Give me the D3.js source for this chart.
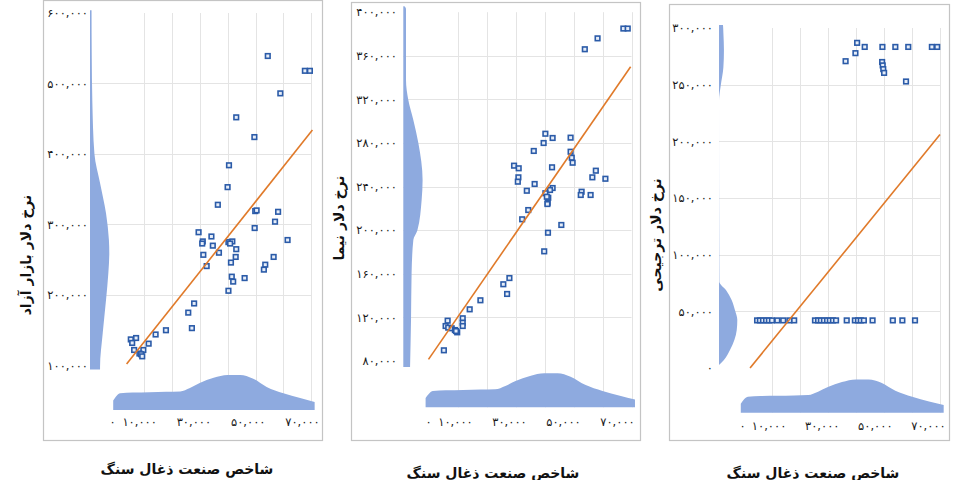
<!DOCTYPE html>
<html><head><meta charset="utf-8">
<script src="https://cdn.jsdelivr.net/npm/d3@7"></script>
<style>body{margin:0;background:#fff} svg{display:block}</style>
</head><body><svg id="c" width="956" height="480"></svg>
<script>
// ---------------- DATA ----------------
const xTitle = "شاخص صنعت ذغال سنگ";
const yTitles = ["نرخ دلار بازار آزاد", "نرخ دلار نیما", "نرخ دلار ترجیحی"];
const xTickValues = [0, 10000, 30000, 50000, 70000];
const xGridValues = [10000, 20000, 30000, 40000, 50000, 60000, 70000];
const yTicks1 = [100000, 200000, 300000, 400000, 500000, 600000];
const yTicks2 = [80000, 120000, 160000, 200000, 240000, 280000, 320000, 360000, 400000];
const yTicks3 = [0, 50000, 100000, 150000, 200000, 250000, 300000];

// panel 1 : free market dollar
const s1x = [54400, 67700, 69500, 58900, 43100, 49600, 40500, 40000, 36500, 49900, 50400, 58100, 57000, 49700, 61500, 29600, 34200, 31100, 30900, 34700, 40300, 41700, 40900, 43100, 42900, 36900, 31300, 32500, 41200, 56500, 53500, 53000, 41500, 42000, 46100, 40300, 28000, 25900, 27200, 17900, 14200, 11700, 7200, 5300, 5800, 6500, 9800, 8400, 9000, 9400];
const s1y = [539000, 518000, 518000, 486000, 452000, 424000, 384000, 353000, 328000, 319000, 320000, 318000, 304000, 295000, 278000, 289000, 283000, 276000, 273000, 270000, 275000, 276000, 273000, 265000, 254000, 260000, 257000, 241000, 246000, 254000, 243000, 236000, 226000, 219000, 224000, 206000, 188000, 175000, 153000, 150000, 144000, 131000, 139000, 137000, 132000, 122000, 122000, 117000, 116000, 113000];
const trend1x = [3800, 70400];
const trend1y = [102000, 434000];

// panel 2 : NIMA dollar
const s2x = [67200, 68700, 58300, 53900, 40300, 42800, 49000, 39700, 36300, 49000, 49400, 49700, 29500, 31100, 42600, 31000, 30800, 57700, 56500, 61000, 36600, 33900, 42800, 41900, 40300, 41300, 40800, 52800, 52500, 55900, 41100, 41000, 34400, 32300, 45800, 41200, 39900, 27900, 25800, 27100, 17900, 14200, 11800, 11800, 11800, 6600, 5900, 6800, 8000, 9100, 9900, 9500, 5300];
const s2y = [385000, 385000, 376000, 366000, 288500, 284600, 284900, 280000, 272700, 272000, 266500, 261900, 259200, 256800, 257700, 248500, 244500, 254600, 248500, 247200, 242400, 236200, 238700, 236900, 233900, 229800, 230700, 235300, 232300, 232300, 225200, 224000, 218500, 210000, 204800, 197700, 180600, 156100, 150400, 141500, 135700, 127400, 119200, 115100, 112100, 117000, 112100, 110600, 110000, 108400, 106300, 107500, 89800];
const trend2x = [0, 69700];
const trend2y = [81500, 350000];

// panel 3 : preferential dollar
const s3x = [36300, 39800, 40400, 43100, 49400, 54000, 58600, 67000, 68900, 49300, 49500, 49700, 50000, 57800,
  4800, 5800, 6900, 8000, 9000, 10100, 12000, 14100, 16300, 18000, 25400, 26500, 27500, 28600, 29700, 30700, 31800, 32900, 36700, 39600, 40700, 41700, 42800, 45900, 53100, 56500, 61000];
const s3y = [270700, 277800, 286900, 283300, 283300, 283300, 283300, 283300, 283300, 270000, 267000, 263700, 260400, 252800,
  42000, 42000, 42000, 42000, 42000, 42000, 42000, 42000, 42000, 42000, 42000, 42000, 42000, 42000, 42000, 42000, 42000, 42000, 42000, 42000, 42000, 42000, 42000, 42000, 42000, 42000, 42000];
const trend3x = [2300, 69900];
const trend3y = [0, 206000];

// marginal densities (relative heights)
const xDensVals = [-1000, 1500, 6000, 12000, 18000, 23000, 26500, 30000, 35000, 40000, 44500, 49000, 54000, 60000, 66000, 71200];
const xDensRel  = [0.27, 0.48, 0.50, 0.51, 0.52, 0.53, 0.63, 0.77, 0.92, 1.0, 1.0, 0.9, 0.66, 0.48, 0.34, 0.23];

const yDens1Vals = [604000, 540000, 476000, 400000, 359000, 316000, 278000, 259000, 231000, 193000, 146000, 98000, 94500];
const yDens1Rel  = [0.08, 0.09, 0.12, 0.23, 0.52, 0.83, 0.98, 1.0, 0.95, 0.83, 0.66, 0.52, 0.52];
const yDens2Vals = [405500, 403000, 380000, 337800, 319400, 301000, 280000, 246000, 227700, 200000, 191000, 160700, 117600, 74500];
const yDens2Rel  = [0.06, 0.14, 0.14, 0.14, 0.26, 0.52, 0.78, 1.0, 0.95, 0.73, 0.52, 0.43, 0.40, 0.35];
const yDens3Vals = [302600, 302500, 295400, 280400, 265400, 248700, 236000, 76100, 68800, 60000, 51200, 42300, 33500, 24700, 15900, 7100, 2600];
const yDens3Rel  = [0.0, 0.22, 0.24, 0.27, 0.24, 0.09, 0.0, 0.02, 0.38, 0.69, 0.87, 1.0, 0.97, 0.84, 0.6, 0.27, 0.0];

// ---------------- LAYOUT ----------------
const panels = [
  {sx: s1x, sy: s1y, tx: trend1x, ty: trend1y, yTicks: yTicks1, yDomain: [100000, 600000], yDv: yDens1Vals, yDr: yDens1Rel, title: yTitles[0],
   frame: [43, 0, 322, 440], xr: [116, 311.3], yr: [365.5, 13], yLabX: 88, yDensBase: 90, yDensMax: 19.3, xDensBase: 410, xDensMax: 35,
   xLab: [112, 302], xLabY: 424, yTitlePos: [27, 255], xTitlePos: [187, 470]},
  {sx: s2x, sy: s2y, tx: trend2x, ty: trend2y, yTicks: yTicks2, yDomain: [80000, 400000], yDv: yDens2Vals, yDr: yDens2Rel, title: yTitles[1],
   frame: [351, 2, 640, 440], xr: [428.5, 631.5], yr: [361, 12.2], yLabX: 397, yDensBase: 403.3, yDensMax: 19.3, xDensBase: 407.3, xDensMax: 34,
   xLab: [428, 617], xLabY: 424, yTitlePos: [340, 218], xTitlePos: [493, 474]},
  {sx: s3x, sy: s3y, tx: trend3x, ty: trend3y, yTicks: yTicks3, yDomain: [0, 300000], yDv: yDens3Vals, yDr: yDens3Rel, title: yTitles[2],
   frame: [669, 4, 949, 440], xr: [743.6, 940.3], yr: [368, 28], yLabX: 713, yDensBase: 719, yDensMax: 18.3, xDensBase: 412.7, xDensMax: 33.3,
   xLab: [742, 928], xLabY: 428, yTitlePos: [657, 235], xTitlePos: [813, 474]}
];

const FONT = "'DejaVu Sans', sans-serif";
const faDigits = "۰۱۲۳۴۵۶۷۸۹";
const toFa = s => s.replace(/[0-9]/g, d => faDigits[+d]);
const fmt = v => toFa(d3.format(",")(v));

const svg = d3.select("#c");

panels.forEach(p => {
  const g = svg.append("g");
  const x = d3.scaleLinear().domain([0, 70000]).range(p.xr);
  const y = d3.scaleLinear().domain(p.yDomain).range(p.yr);
  const xl = d3.scaleLinear().domain([0, 70000]).range(p.xLab);

  // frame
  g.append("rect").attr("x", p.frame[0] + 0.5).attr("y", p.frame[1] + 0.5)
    .attr("width", p.frame[2] - p.frame[0]).attr("height", p.frame[3] - p.frame[1])
    .attr("fill", "#fff").attr("stroke", "#c4c4c4").attr("stroke-width", 1.2);

  // gridlines
  g.append("g").selectAll("line").data(p.yTicks.slice(1, -1)).join("line")
    .attr("x1", p.yDensBase).attr("x2", x(70000))
    .attr("y1", d => Math.round(y(d)) + 0.5).attr("y2", d => Math.round(y(d)) + 0.5)
    .attr("stroke", "#e4e4e4").attr("stroke-width", 1);
  g.append("g").selectAll("line").data(xGridValues).join("line")
    .attr("x1", d => Math.round(x(d)) + 0.5).attr("x2", d => Math.round(x(d)) + 0.5)
    .attr("y1", y(p.yDomain[1])).attr("y2", p.xDensBase)
    .attr("stroke", "#e4e4e4").attr("stroke-width", 1);

  // left density (y marginal)
  const yd = p.yDv.map((v, i) => ({v, r: p.yDr[i]}));
  const wScale = d3.scaleLinear().domain([0, 1]).range([0, p.yDensMax]);
  g.append("path").datum(yd)
    .attr("d", d3.area().curve(d3.curveMonotoneY)
      .y(d => y(d.v)).x0(p.yDensBase).x1(d => p.yDensBase + wScale(d.r)))
    .attr("fill", "#8eaadf");

  // bottom density (x marginal)
  const xd = xDensVals.map((v, i) => ({v, r: xDensRel[i]}));
  const hScale = d3.scaleLinear().domain([0, 1]).range([0, p.xDensMax]);
  g.append("path").datum(xd)
    .attr("d", d3.area().curve(d3.curveMonotoneX)
      .x(d => x(d.v)).y0(p.xDensBase).y1(d => p.xDensBase - hScale(d.r)))
    .attr("fill", "#8eaadf");

  // y axis labels
  const ya = d3.axisLeft(y).tickValues(p.yTicks).tickSize(0).tickPadding(0).tickFormat(fmt);
  const yg = g.append("g").attr("transform", `translate(${p.yLabX},0)`).call(ya);
  yg.select(".domain").remove();
  yg.selectAll("text").attr("font-family", FONT).attr("font-size", 11.5).attr("fill", "#1a1a1a")
    .attr("direction", "ltr");

  // x axis labels
  const xa = d3.axisBottom(xl).tickValues(xTickValues).tickSize(0).tickPadding(0).tickFormat(fmt);
  const xg = g.append("g").attr("transform", `translate(0,${p.xLabY - 6})`).call(xa);
  xg.select(".domain").remove();
  xg.selectAll("text").attr("font-family", FONT).attr("font-size", 11.5).attr("fill", "#1a1a1a")
    .attr("direction", "ltr");

  // scatter
  const pts = p.sx.map((v, i) => [v, p.sy[i]]);
  g.append("g").selectAll("rect").data(pts).join("rect")
    .attr("x", d => x(d[0]) - 2.3).attr("y", d => y(d[1]) - 2.3)
    .attr("width", 4.6).attr("height", 4.6)
    .attr("fill", "#e6edf8").attr("stroke", "#2b5ba8").attr("stroke-width", 1.6);

  // trend line
  const tl = p.tx.map((v, i) => [v, p.ty[i]]);
  g.append("path").datum(tl)
    .attr("d", d3.line().x(d => x(d[0])).y(d => y(d[1])))
    .attr("stroke", "#e07a2a").attr("stroke-width", 1.6).attr("fill", "none");

  // titles
  g.append("text").attr("transform", `translate(${p.yTitlePos[0]},${p.yTitlePos[1]}) rotate(-90)`)
    .attr("text-anchor", "middle").attr("dominant-baseline", "middle")
    .attr("font-family", FONT).attr("font-weight", "bold").attr("font-size", 14).attr("fill", "#111")
    .attr("direction", "rtl").text(p.title);
  g.append("text").attr("x", p.xTitlePos[0]).attr("y", p.xTitlePos[1])
    .attr("text-anchor", "middle").attr("dominant-baseline", "middle")
    .attr("font-family", FONT).attr("font-weight", "bold").attr("font-size", 14).attr("fill", "#111")
    .attr("direction", "rtl").text(xTitle);
});
</script></body></html>
